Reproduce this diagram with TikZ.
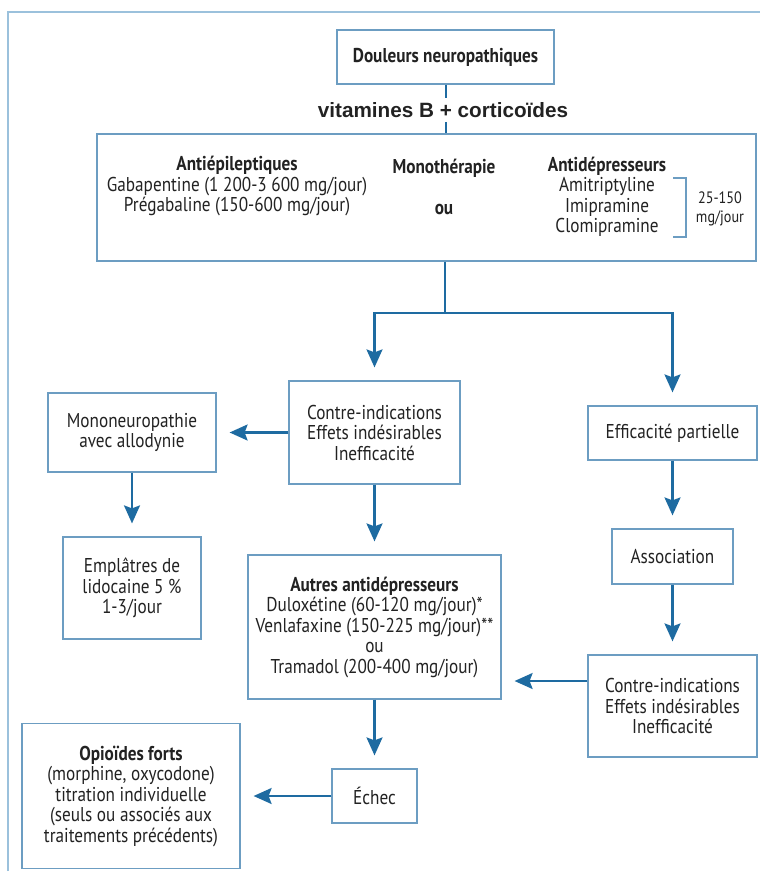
\documentclass[tikz,border=0pt]{standalone}
\usepackage{fontspec}
\setmainfont{PT Sans}[FakeStretch=0.86]
\newfontfamily\vitfont{Liberation Sans}
\usetikzlibrary{arrows.meta}
\definecolor{framecol}{HTML}{9BC1DC}
\definecolor{boxcol}{HTML}{6C9DC2}
\definecolor{arrowcol}{HTML}{1E6BA1}
\definecolor{textcol}{HTML}{222222}

\begin{document}
\begin{tikzpicture}
  [x=1pt,y=-1pt,
   every node/.style={text=textcol, font=\fontsize{20}{20.5}\selectfont, align=center, inner sep=0pt},
   box/.style={draw=boxcol, line width=1.2pt, fill=white},
   arr/.style={draw=arrowcol, line width=2.2pt, -{Stealth[length=18pt,width=16pt,inset=3pt]}, shorten >=13pt},
   link/.style={draw=arrowcol, line width=2pt}]
  \useasboundingbox (0,0) rectangle (760,881);
  \draw[framecol, line width=2pt] (8,871) -- (8,12) -- (770,12);

  % top
  \node[box, minimum width=217pt, minimum height=54pt] (douleurs) at (445.5,57) {\bfseries Douleurs neuropathiques};
  \node[font=\vitfont\bfseries\fontsize{20.7}{24}\selectfont, inner sep=4pt] (vit) at (443,110) {vitamines B + corticoïdes};
  \node[box, minimum width=659pt, minimum height=127pt] (mono) at (426.5,197.5) {};
  \node (antiep) at (237,186) {\bfseries Antiépileptiques\\Gabapentine (1 200-3 600 mg/jour)\\Prégabaline (150-600 mg/jour)};
  \node (monoth) at (444,186.5) {\bfseries Monothérapie\\[20.5pt]\bfseries ou};
  \node (antidep) at (607,197) {\bfseries Antidépresseurs\\Amitriptyline\\Imipramine\\Clomipramine};
  \node[font=\fontsize{16.5}{19}\selectfont] (dose) at (720,208.5) {25-150\\mg/jour};
  \draw[boxcol, line width=1.2pt] (673,178) -- (686,178) -- (686,237) -- (673,237);

  % boxes
  \node[box, minimum width=171pt, minimum height=103pt] (ci1) at (374.5,432.5) {Contre-indications\\Effets indésirables\\Inefficacité};
  \node[box, minimum width=168pt, minimum height=79pt] (monoN) at (132,432.5) {Mononeuropathie\\avec allodynie};
  \node[box, minimum width=138pt, minimum height=102pt] (emp) at (132,588) {Emplâtres de\\lidocaine 5 \%\\1-3/jour};
  \node[box, minimum width=253pt, minimum height=144pt] (autres) at (374.5,627) {\bfseries Autres antidépresseurs\\Duloxétine (60-120 mg/jour)*\\Venlafaxine (150-225 mg/jour)**\\ou\\Tramadol (200-400 mg/jour)};
  \node[box, minimum width=169pt, minimum height=54pt] (eff) at (672.5,433) {Efficacité partielle};
  \node[box, minimum width=121pt, minimum height=55pt] (assoc) at (672.5,556.5) {Association};
  \node[box, minimum width=169pt, minimum height=102pt] (ci2) at (672.5,706) {Contre-indications\\Effets indésirables\\Inefficacité};
  \node[box, minimum width=85pt, minimum height=54pt] (echec) at (374.5,796) {Échec};
  \node[box, minimum width=218pt, minimum height=145pt] (opio) at (131,796) {\bfseries Opioïdes forts\\(morphine, oxycodone)\\titration individuelle\\(seuls ou associés aux\\traitements précédents)};

  % links
  \coordinate (split) at (445,313);
  \coordinate (ciIn) at ([yshift=25pt]ci2.west);
  \draw[link] (douleurs) -- (douleurs |- vit.north);
  \draw[link] (douleurs |- vit.south) -- (douleurs |- mono.north);
  \draw[link] (split |- mono.south) -- (split);
  \draw[arr] (split) -| (ci1);
  \draw[arr] (split) -| (eff);
  \foreach \from/\to in {ci1/monoN,monoN/emp,ci1/autres,eff/assoc,assoc/ci2,autres/echec,echec/opio}
    \draw[arr] (\from) -- (\to);
  \draw[arr] (ciIn) -- (ciIn -| autres.east);

\end{tikzpicture}
\end{document}
